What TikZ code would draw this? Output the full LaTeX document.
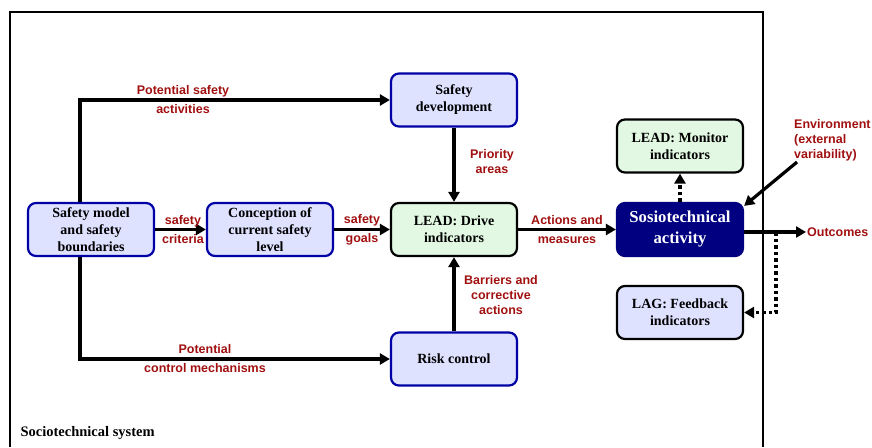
\documentclass[tikz,border=0pt]{standalone}
\usepackage{fontspec}
\setmainfont{Liberation Serif}
\setsansfont{Liberation Sans}
\usetikzlibrary{arrows.meta}

\definecolor{lblred}{RGB}{160,16,16}
\definecolor{boxblue}{RGB}{0,0,165}
\definecolor{fillblue}{RGB}{222,226,255}
\definecolor{fillgreen}{RGB}{226,248,226}
\definecolor{actnavy}{RGB}{0,0,128}

\tikzset{
  box/.style={draw=boxblue, line width=2.2pt, fill=fillblue, rounded corners=8pt,
    minimum width=126pt, minimum height=53pt, inner sep=2pt, align=center,
    font=\bfseries\fontsize{14}{17}\selectfont},
  leadbox/.style={box, draw=black, fill=fillgreen},
  lagbox/.style={box, draw=black},
  actbox/.style={box, draw=actnavy, fill=actnavy, text=white,
    font=\bfseries\fontsize{16.7}{21}\selectfont},
  lbl/.style={text=lblred, align=center, inner sep=1pt,
    font=\sffamily\bfseries\fontsize{12.5}{15}\selectfont},
  cut/.style={lbl, font=\sffamily\bfseries\fontsize{12.5}{19}\selectfont},
  arr/.style={line width=3.2pt, -{Triangle[length=10pt,width=11pt]}},
  dotarr/.style={arr, dash pattern=on 3.5pt off 3pt}
}

\begin{document}
\begin{tikzpicture}[x=1pt, y=-1pt]
  \useasboundingbox (0,0) rectangle (872,447);

  \draw[line width=1.6pt] (10,447) -- (10,12) -- (763,12) -- (763,447);
  \node[anchor=base west, font=\bfseries\fontsize{14.5}{17}\selectfont] (sys) at (17,436) {Sociotechnical system};

  \node[box] (model) at (91,229.5) {Safety model\\and safety\\boundaries};
  \node[box] (concept) at (270,229.5) {Conception of\\current safety\\level};
  \node[box] (dev) at (454,100) {Safety\\development};
  \node[leadbox] (drive) at (454,229.5) {LEAD: Drive\\indicators};
  \node[box] (risk) at (454,359) {Risk control};
  \node[actbox] (act) at (680,229.5) {Sosiotechnical\\activity};
  \node[leadbox] (monitor) at (680,146) {LEAD: Monitor\\indicators};
  \node[lagbox] (lag) at (680,312.5) {LAG: Feedback\\indicators};
  \node[lbl, anchor=west] (out) at (806,232) {Outcomes};
  \node[lbl, align=left, anchor=north west] (env) at (793,118) {Environment\\(external\\variability)};

  \coordinate (spine) at (80,0);
  \coordinate (fb) at (776,0);
  \draw[arr] (model.north -| spine) |- (dev.west);
  \draw[arr] (model.south -| spine) |- (risk.west);
  \draw[arr] (model) -- (concept);
  \draw[arr] (concept) -- (drive);
  \draw[arr] (dev) -- (drive);
  \draw[arr] (risk) -- (drive);
  \draw[arr] (drive) -- (act);
  \draw[arr] (act.east |- out.west) -- (out.west);
  \draw[arr] ([xshift=4pt]env.south west) -- ([yshift=-4pt]act.north east);
  \draw[dotarr] (act) -- (monitor);
  \draw[dotarr] (fb |- out.west) |- (lag.east);

  \node[cut] (lact) at (183,100) {Potential safety\\activities};
  \node[cut] (lcrit) at (183,229.5) {safety\\criteria};
  \node[cut] (lgoal) at (362,229.5) {safety\\goals};
  \node[cut] (lmeas) at (567,229.5) {Actions and\\measures};
  \node[lbl] (lprio) at (492,162) {Priority\\areas};
  \node[lbl] (lbarr) at (501,295) {Barriers and\\corrective\\actions};
  \node[cut] (lctrl) at (205,359) {Potential\\control mechanisms};
\end{tikzpicture}
\end{document}
